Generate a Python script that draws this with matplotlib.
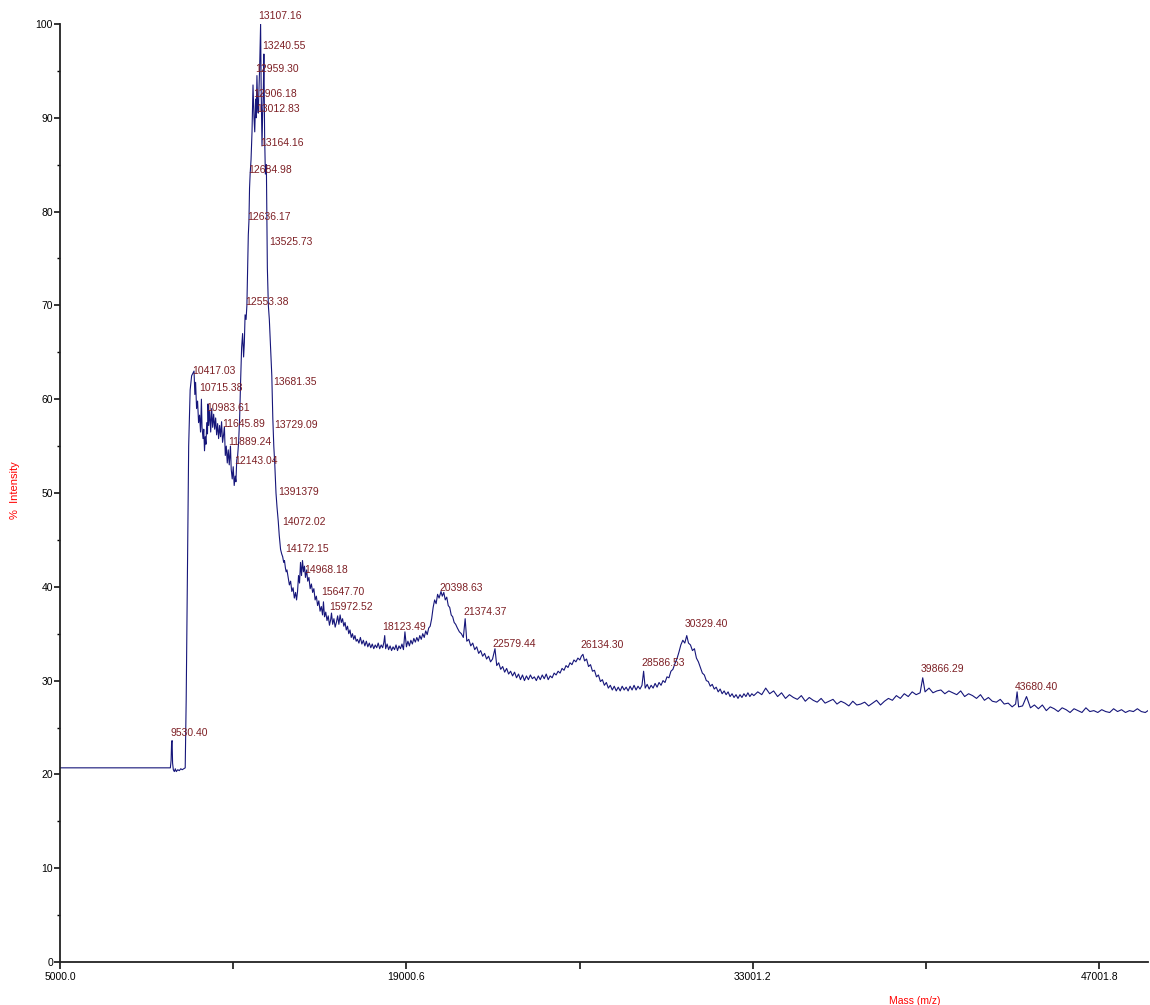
import numpy as np
import matplotlib
matplotlib.use("Agg")
import matplotlib.pyplot as plt
from matplotlib.ticker import FixedLocator, MultipleLocator

plt.rcParams['font.family'] = ['Liberation Sans', 'DejaVu Sans']

# ---------------- data ----------------
mass_a = [5000, 9400, 9460, 9490, 9510, 9530, 9550, 9580, 9620, 9660, 9700, 9760, 9820, 9880, 9940, 10000, 10060]
int_a = [20.7, 20.7, 20.7, 21.5, 23.4, 23.6, 21.2, 20.5, 20.3, 20.6, 20.3, 20.5, 20.4, 20.6, 20.5, 20.6, 20.7]

mass_b = [10100, 10150, 10200, 10260, 10320, 10417, 10450, 10480, 10520, 10560,
          10600, 10640, 10680, 10715, 10740, 10780, 10810, 10840, 10870, 10900,
          10930, 10960, 10983, 11010, 11050, 11090, 11130, 11170, 11210, 11250,
          11290, 11330, 11370, 11410, 11450, 11490, 11530, 11570, 11610, 11645,
          11680, 11720, 11760, 11800, 11840, 11889, 11920, 11960, 12000, 12040,
          12080, 12110, 12143, 12180, 12220]
int_b = [28.0, 42.0, 55.0, 61.0, 62.5, 63.0, 60.5, 61.8, 59.0, 59.8,
         57.5, 58.3, 56.5, 60.0, 57.0, 55.8, 56.8, 54.5, 56.0, 55.2,
         57.5, 56.3, 59.5, 57.2, 58.8, 56.5, 59.0, 57.0, 58.4, 56.8,
         58.0, 56.2, 57.4, 55.8, 57.2, 56.0, 57.6, 55.4, 56.2, 57.0,
         54.0, 55.0, 53.2, 54.6, 53.0, 55.0, 52.5, 51.5, 52.8, 50.8,
         51.8, 51.2, 53.5, 54.0, 55.5]

mass_c = [12260, 12300, 12340, 12380, 12420, 12450, 12480, 12520, 12553, 12580,
          12610, 12636, 12660, 12684, 12720, 12760, 12800, 12840, 12870, 12906,
          12930, 12959, 12990, 13012, 13040, 13070, 13107, 13130, 13164, 13190,
          13215, 13240, 13270, 13300, 13340, 13380, 13420, 13460, 13500, 13525,
          13560, 13600, 13640, 13681, 13705, 13729, 13770, 13820, 13860, 13913,
          13960, 14000, 14040, 14072, 14110, 14140, 14172]
int_c = [58.0, 62.0, 65.5, 67.0, 64.5, 66.0, 69.0, 68.5, 70.0, 73.5,
         77.5, 79.0, 82.5, 84.0, 85.5, 88.5, 93.5, 90.0, 88.5, 92.0,
         90.0, 94.5, 91.0, 90.5, 93.0, 95.5, 100.0, 93.0, 87.0, 90.5,
         92.5, 96.8, 88.0, 84.0, 85.0, 74.0, 70.0, 68.5, 66.0, 64.5,
         62.5, 58.0, 55.0, 53.0, 51.5, 50.0, 48.5, 47.0, 45.5, 44.0,
         43.5, 43.2, 42.6, 42.8, 42.0, 41.6, 41.8]

mass_d = [14220, 14270, 14320, 14370, 14420, 14470, 14520, 14560, 14600, 14640,
          14680, 14720, 14760, 14800, 14840, 14880, 14920, 14968, 15010, 15060,
          15110, 15160, 15210, 15260, 15310, 15360, 15410, 15460, 15510, 15560,
          15610, 15647, 15690, 15740, 15790, 15840, 15890, 15940, 15972, 16020,
          16070, 16120, 16170, 16220, 16270, 16320, 16370, 16420, 16470, 16520,
          16570, 16620, 16670, 16720, 16770, 16820, 16870, 16920, 16970]
int_d = [41.0, 40.2, 40.6, 39.5, 39.9, 38.8, 39.4, 38.6, 39.5, 41.2,
         40.4, 42.6, 41.2, 42.8, 41.6, 42.2, 41.0, 41.8, 40.6, 41.0,
         39.8, 40.3, 39.4, 39.8, 38.6, 39.0, 38.0, 38.5, 37.4, 37.9,
         37.0, 38.4, 36.8, 37.3, 36.4, 36.9, 35.9, 36.5, 37.2, 36.0,
         36.6, 35.7, 36.2, 36.9, 36.0, 37.0, 36.2, 36.6, 35.8, 36.2,
         35.4, 35.8, 35.0, 35.4, 34.6, 35.0, 34.4, 34.8, 34.2]

mass_e = [17020, 17080, 17140, 17200, 17260, 17320, 17380, 17440, 17500, 17560,
          17620, 17680, 17740, 17800, 17860, 17920, 17980, 18040, 18090, 18123,
          18160, 18220, 18280, 18340, 18400, 18460, 18520, 18580, 18640, 18700,
          18760, 18820, 18880, 18940, 19000, 19060, 19120, 19180, 19240, 19300,
          19360, 19420, 19480, 19540, 19600, 19660, 19720, 19780, 19840, 19900,
          19960, 20020, 20080, 20140, 20200, 20260, 20320, 20398, 20450, 20510,
          20570, 20630, 20690, 20750, 20810, 20870, 20930, 20990]
int_e = [34.4, 34.0, 34.6, 33.9, 34.3, 33.7, 34.2, 33.6, 34.0, 33.5,
         33.9, 33.4, 33.8, 33.5, 34.0, 33.4, 33.8, 33.5, 34.1, 34.8,
         33.4, 33.9, 33.3, 33.7, 33.2, 33.6, 33.3, 33.8, 33.2, 33.7,
         33.4, 33.9, 33.3, 35.2, 33.6, 34.2, 33.7, 34.3, 33.9, 34.5,
         34.1, 34.6, 34.2, 34.8, 34.4, 35.0, 34.6, 35.3, 34.9, 35.6,
         35.8, 36.6, 37.8, 38.6, 38.2, 39.2, 38.8, 39.5, 39.0, 39.4,
         38.6, 38.9, 38.0, 37.8, 37.0, 36.8, 36.2, 36.0]

mass_f = [21060, 21140, 21220, 21300, 21374, 21440, 21520, 21600, 21680, 21760,
          21840, 21920, 22000, 22080, 22160, 22240, 22320, 22400, 22480, 22579,
          22650, 22730, 22810, 22890, 22970, 23050, 23130, 23210, 23290, 23370,
          23450, 23530, 23610, 23690, 23770, 23850, 23930, 24010, 24090, 24170,
          24250, 24330, 24410, 24490, 24570, 24650, 24730, 24810, 24890, 24970,
          25050, 25130, 25210, 25290, 25370, 25450, 25530, 25610, 25690, 25770,
          25850, 25930, 26010, 26070, 26134, 26200, 26280, 26360, 26440, 26520,
          26600, 26680, 26760, 26840, 26920, 27000, 27080, 27160, 27240, 27320,
          27400, 27480, 27560, 27640, 27720, 27800, 27880, 27960, 28040, 28120,
          28200, 28280, 28360, 28440, 28520, 28586, 28650, 28730, 28810, 28890,
          28970, 29050, 29130, 29210, 29290, 29370, 29450, 29530, 29610, 29690,
          29770, 29850, 29930, 30010, 30090, 30170, 30250, 30329, 30400, 30480,
          30560, 30640, 30720, 30800, 30880, 30960, 31040, 31120, 31200, 31280,
          31360, 31440, 31520, 31600, 31680, 31760, 31840, 31920, 32000, 32080,
          32160, 32240, 32320, 32400, 32480, 32560, 32640, 32720, 32800, 32880,
          32960]
int_f = [35.6, 35.2, 35.0, 34.6, 36.6, 34.2, 34.4, 33.7, 34.0, 33.3,
         33.6, 32.9, 33.2, 32.6, 32.9, 32.3, 32.6, 32.0, 32.3, 33.4,
         31.6, 31.9, 31.2, 31.5, 30.9, 31.3, 30.7, 31.0, 30.5, 30.9,
         30.3, 30.7, 30.1, 30.6, 30.0, 30.5, 30.1, 30.6, 30.2, 30.4,
         30.0, 30.5, 30.1, 30.6, 30.2, 30.7, 30.1, 30.5, 30.3, 30.8,
         30.6, 31.0, 30.8, 31.3, 31.1, 31.6, 31.4, 31.9, 31.7, 32.2,
         32.0, 32.4, 32.2, 32.6, 32.8, 32.1, 32.3, 31.5, 31.7, 31.0,
         31.1, 30.4, 30.6, 29.9, 30.1, 29.5, 29.8, 29.2, 29.5, 29.0,
         29.4, 28.9, 29.3, 28.9, 29.4, 29.0, 29.3, 28.9, 29.4, 29.0,
         29.5, 29.0, 29.4, 29.1, 29.5, 31.0, 29.2, 29.6, 29.1, 29.5,
         29.2, 29.7, 29.3, 29.8, 29.5, 30.0, 29.8, 30.4, 30.3, 31.0,
         31.2, 31.8, 32.3, 33.0, 33.8, 34.3, 34.0, 34.8, 34.0, 33.8,
         33.2, 33.4, 32.4, 32.0, 31.4, 30.8, 30.6, 30.0, 29.9, 29.4,
         29.6, 29.1, 29.3, 28.8, 29.1, 28.6, 28.9, 28.5, 28.8, 28.3,
         28.6, 28.2, 28.5, 28.1, 28.5, 28.2, 28.6, 28.3, 28.7, 28.3,
         28.6]

mass_g = [33040, 33200, 33360, 33520, 33680, 33840, 34000, 34160, 34320, 34480,
          34640, 34800, 34960, 35120, 35280, 35440, 35600, 35760, 35920, 36080,
          36240, 36400, 36560, 36720, 36880, 37040, 37200, 37360, 37520, 37680,
          37840, 38000, 38160, 38320, 38480, 38640, 38800, 38960, 39120, 39280,
          39440, 39600, 39760, 39866, 39960, 40120, 40280, 40440, 40600, 40760,
          40920, 41080, 41240, 41400, 41560, 41720, 41880, 42040, 42200, 42360,
          42520, 42680, 42840, 43000, 43160, 43320, 43480, 43620, 43680, 43740,
          43900, 44060, 44220, 44380, 44540, 44700, 44860, 45020, 45180, 45340,
          45500, 45660, 45820, 45980, 46140, 46300, 46460, 46620, 46780, 46940,
          47100, 47260, 47420, 47580, 47740, 47900, 48060, 48220, 48380, 48540,
          48700, 48860, 48970]
int_g = [28.4, 28.8, 28.5, 29.2, 28.6, 28.9, 28.3, 28.7, 28.1, 28.5,
         28.2, 28.0, 28.4, 27.8, 28.2, 27.9, 27.7, 28.1, 27.6, 27.8,
         28.0, 27.5, 27.8, 27.6, 27.3, 27.8, 27.4, 27.5, 27.7, 27.3,
         27.6, 27.9, 27.4, 27.8, 28.1, 27.9, 28.4, 28.1, 28.6, 28.3,
         28.8, 28.5, 28.7, 30.3, 28.8, 29.2, 28.7, 28.9, 29.0, 28.6,
         28.9, 28.7, 28.5, 28.9, 28.3, 28.6, 28.4, 28.1, 28.5, 27.9,
         28.2, 27.8, 27.7, 28.0, 27.5, 27.6, 27.2, 27.5, 28.8, 27.2,
         27.3, 28.3, 27.1, 27.4, 27.0, 27.4, 26.8, 27.2, 27.0, 26.7,
         27.1, 26.9, 26.6, 27.0, 26.8, 26.6, 27.1, 26.7, 26.8, 26.6,
         26.9, 26.7, 26.6, 27.0, 26.7, 26.9, 26.6, 26.8, 26.7, 27.0,
         26.7, 26.6, 26.8]

# peak labels
label_text = ["13107.16", "13240.55", "12959.30", "12906.18", "13012.83", "13164.16",
              "12684.98", "12636.17", "13525.73", "12553.38", "10417.03", "10715.38",
              "10983.61", "11645.89", "11889.24", "12143.04", "13681.35", "13729.09",
              "1391379", "14072.02", "14172.15", "14968.18", "15647.70", "15972.52",
              "18123.49", "20398.63", "21374.37", "22579.44", "26134.30", "28586.53",
              "30329.40", "39866.29", "43680.40", "9530.40"]
label_mass = [13107.16, 13240.55, 12959.30, 12906.18, 13012.83, 13164.16,
              12684.98, 12636.17, 13525.73, 12553.38, 10417.03, 10715.38,
              10983.61, 11645.89, 11889.24, 12143.04, 13681.35, 13729.09,
              13913.79, 14072.02, 14172.15, 14968.18, 15647.70, 15972.52,
              18123.49, 20398.63, 21374.37, 22579.44, 26134.30, 28586.53,
              30329.40, 39866.29, 43680.40, 9530.40]
label_height = [100.3, 97.1, 94.7, 92.0, 90.4, 86.8,
                83.9, 78.9, 76.2, 69.8, 62.5, 60.7,
                58.5, 56.8, 54.9, 52.9, 61.3, 56.7,
                49.6, 46.4, 43.5, 41.3, 38.9, 37.3,
                35.2, 39.3, 36.8, 33.4, 33.3, 31.3,
                35.5, 30.7, 28.8, 23.9]

x_ticks = [5000.0, 19000.6, 33001.2, 47001.8]
x_minor = [12000.3, 26000.9, 40001.5]

mass = np.array(mass_a + mass_b + mass_c + mass_d + mass_e + mass_f + mass_g, dtype=float)
inten = np.array(int_a + int_b + int_c + int_d + int_e + int_f + int_g, dtype=float)

# ---------------- figure ----------------
fig = plt.figure(figsize=(11.5, 10.05), dpi=100)
ax = fig.add_axes([60 / 1150, 1 - 962 / 1005, 1088 / 1150, 938 / 1005])

ax.plot(mass, inten, color='#16167a', lw=0.8)

label_color = '#7d1f24'
for t, m, h in zip(label_text, label_mass, label_height):
    ax.annotate(t, (m, h), xytext=(-1.5, 0), textcoords='offset points',
                ha='left', va='bottom', fontsize=7.5, color=label_color,
                annotation_clip=False, clip_on=False)

ax.set_xlim(5000, 48970)
ax.set_ylim(0, 100)
ax.xaxis.set_major_locator(FixedLocator(x_ticks))
ax.xaxis.set_minor_locator(FixedLocator(x_minor))
ax.set_xticklabels([f"{v:.1f}" for v in x_ticks])
ax.yaxis.set_major_locator(MultipleLocator(10))
ax.yaxis.set_minor_locator(MultipleLocator(5))

for s in ['top', 'right']:
    ax.spines[s].set_visible(False)
for s in ['left', 'bottom']:
    ax.spines[s].set_linewidth(1.3)
    ax.spines[s].set_color('#222222')

ax.tick_params(axis='x', which='both', direction='out', length=5, width=1.1,
               labelsize=7.5, pad=2)
ax.tick_params(axis='y', which='major', direction='out', length=4, width=1.1,
               labelsize=7.5, pad=1)
ax.tick_params(axis='y', which='minor', direction='out', length=2, width=1.0)

ax.set_ylabel("%  Intensity", color='red', fontsize=8)
ax.yaxis.set_label_coords(-40 / 1088, (962 - 490) / 938)
ax.set_xlabel("Mass (m/z)", color='red', fontsize=7.5)
ax.xaxis.set_label_coords((915 - 60) / 1088, -34 / 938)

fig.savefig("out.png", dpi=100)
